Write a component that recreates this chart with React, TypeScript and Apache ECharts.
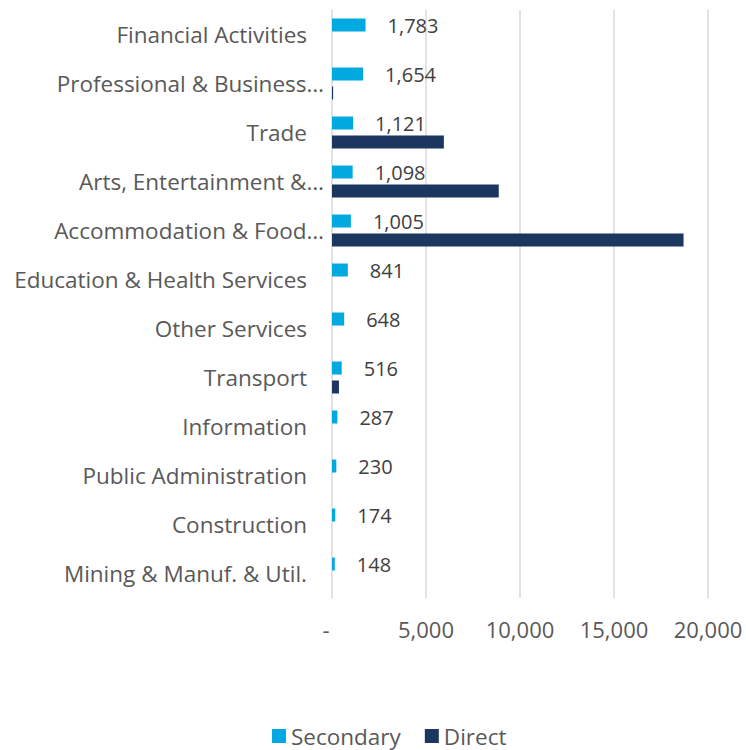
import React, { useEffect, useRef } from "react";
import * as echarts from "echarts";

const categories = [
  "Financial Activities",
  "Professional & Business…",
  "Trade",
  "Arts, Entertainment &…",
  "Accommodation & Food…",
  "Education & Health Services",
  "Other Services",
  "Transport",
  "Information",
  "Public Administration",
  "Construction",
  "Mining & Manuf. & Util.",
];
const secondaryValues = [1783, 1654, 1121, 1098, 1005, 841, 648, 516, 287, 230, 174, 148];
const directValues = [0, 60, 5950, 8870, 18700, 0, 0, 370, 0, 0, 0, 0];
const xTicks = [0, 5000, 10000, 15000, 20000];

const FONT = "'Open Sans', 'Noto Sans', sans-serif";
const fmt = (v: number) => v.toLocaleString("en-US");

export default function App() {
  const ref = useRef<HTMLDivElement>(null);
  useEffect(() => {
    if (!ref.current) return;
    const chart = echarts.init(ref.current, null, { renderer: "svg" });
    chart.setOption({
      animation: false,
      textStyle: { fontFamily: FONT },
      grid: { left: 332, right: 38, top: 10, bottom: 152, containLabel: false },
      legend: {
        left: 272,
        top: 724,
        padding: 0,
        icon: "rect",
        itemWidth: 14,
        itemHeight: 14,
        itemGap: 24,
        textStyle: { fontSize: 22.5, color: "#595959", fontFamily: FONT, lineHeight: 24 },
        data: ["Secondary", "Direct"],
      },
      xAxis: {
        type: "value",
        min: xTicks[0],
        max: xTicks[xTicks.length - 1],
        interval: xTicks[1] - xTicks[0],
        axisLine: { show: false },
        axisTick: { show: false },
        splitLine: { lineStyle: { color: "#d9d9d9", width: 1.5 } },
        axisLabel: {
          fontSize: 22,
          color: "#595959",
          margin: 20,
          fontFamily: FONT,
          formatter: (v: number) => (v === 0 ? "{d|-}" : fmt(v)),
          rich: {
            d: { fontSize: 22, color: "#595959", fontFamily: FONT, padding: [0, 12, 0, 0] },
          },
        },
      },
      yAxis: {
        type: "category",
        inverse: true,
        data: categories,
        axisLine: { show: false },
        axisTick: { show: false },
        axisLabel: {
          fontSize: 22.5,
          color: "#595959",
          margin: 8,
          fontFamily: FONT,
          formatter: (v: string) => (v.endsWith("…") ? v : "{p|" + v + "}"),
          rich: {
            p: { fontSize: 22.5, color: "#595959", fontFamily: FONT, padding: [0, 17, 0, 0] },
          },
        },
      },
      series: [
        {
          name: "Secondary",
          type: "bar",
          data: secondaryValues,
          barWidth: 13,
          barGap: "46%",
          itemStyle: { color: "#00A9E0" },
          label: {
            show: true,
            position: "right",
            distance: 22,
            fontSize: 20,
            color: "#404040",
            fontFamily: FONT,
            formatter: (p: any) => fmt(p.value),
          },
        },
        {
          name: "Direct",
          type: "bar",
          data: directValues,
          barWidth: 13,
          barGap: "46%",
          itemStyle: { color: "#1B365F" },
        },
      ],
    });
    return () => chart.dispose();
  }, []);
  return (
    <div
      ref={ref}
      style={{ position: "fixed", left: 0, top: 0, width: 746, height: 750, background: "#fff" }}
    />
  );
}
